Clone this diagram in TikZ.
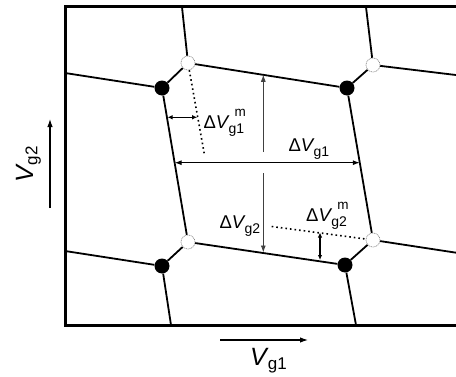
\documentclass[tikz,border=0pt]{standalone}
\usepackage{fontspec}
\setmainfont{Liberation Sans}
\usetikzlibrary{arrows.meta}
\newcommand\dvlab[2]{\fontsize{18.5}{18.5}\selectfont Δ\textit{V}\kern-1pt\rlap{\kern6pt\raisebox{11.5pt}{\fontsize{13.5}{13.5}\selectfont #2}}\raisebox{-5pt}{\fontsize{14}{14}\selectfont #1}}
\newcommand\axlab[1]{\fontsize{25}{25}\selectfont\textit{V}\kern-1pt\raisebox{-4.5pt}{\fontsize{17}{17}\selectfont #1}}
\begin{document}
\begin{tikzpicture}[x=1pt,y=1pt,
  boxline/.style={line width=3pt},
  cellline/.style={line width=1.8pt},
  blackdot/.style={circle,fill=black,minimum size=15pt,inner sep=0pt},
  opendot/.style={circle,draw=black!50,line width=0.6pt,dash pattern=on 1pt off 0.8pt,fill=white,minimum size=14pt,inner sep=0pt},
  dimarrow/.style={line width=1.1pt,{Latex[length=7pt,width=5pt]}-{Latex[length=7pt,width=5pt]}},
  smallarrow/.style={line width=1.1pt,{Latex[length=5pt,width=4.5pt]}-{Latex[length=5pt,width=4.5pt]}},
  thinarrow/.style={line width=0.8pt,draw=black!75,-{Latex[length=7pt,width=5pt]}},
  axarrow/.style={line width=1.1pt,-{Latex[length=8pt,width=5.5pt]}},
  dottedline/.style={line width=1.6pt,dash pattern=on 1.6pt off 3pt},
  lab/.style={inner sep=0pt,anchor=base west}]
\path[use as bounding box] (0,0) rectangle (456,376);
% dots
\node[blackdot] (A1) at (162,288) {};
\node[opendot] (O1) at (188,313) {};
\node[blackdot] (A2) at (347,288) {};
\node[opendot] (O2) at (373,311) {};
\node[blackdot] (B1) at (162,110) {};
\node[opendot] (P1) at (188,134) {};
\node[blackdot] (B2) at (345,111) {};
\node[opendot] (P2) at (373,136) {};
% edge coordinates
\coordinate (tl) at (65,369);
\coordinate (bl) at (65,51);
\coordinate (tr) at (460,369);
\coordinate (br) at (460,51);
\coordinate (eA1) at (65,303);
\coordinate (eO1) at (182,369);
\coordinate (eO2t) at (366,369);
\coordinate (eO2r) at (460,300.5);
\coordinate (eB1l) at (65,125);
\coordinate (eB1b) at (171,51);
\coordinate (eB2b) at (356,51);
\coordinate (eP2r) at (460,122.7);
% cell lines
\draw[cellline] (eA1) -- (A1);
\draw[cellline] (A1) -- (O1);
\draw[cellline] (O1) -- (eO1);
\draw[cellline] (O1) -- (A2);
\draw[cellline] (A2) -- (O2);
\draw[cellline] (O2) -- (eO2t);
\draw[cellline] (O2) -- (eO2r);
\draw[cellline] (A1) -- (P1);
\draw[cellline] (A2) -- (P2);
\draw[cellline] (B1) -- (P1);
\draw[cellline] (eB1l) -- (B1);
\draw[cellline] (B1) -- (eB1b);
\draw[cellline] (P1) -- (B2);
\draw[cellline] (B2) -- (P2);
\draw[cellline] (B2) -- (eB2b);
\draw[cellline] (P2) -- (eP2r);
% box
\draw[boxline] (tr) -- (tl) -- (bl) -- (br);
% Delta Vg1
\coordinate (g1L) at (174.6,213.3);
\coordinate (g1R) at (359.8,213.3);
\draw[dimarrow] (g1L) -- (g1R);
% Delta Vg2
\coordinate (g2T) at (263.3,301.2);
\coordinate (g2a) at (263.3,224);
\coordinate (g2b) at (263.3,203);
\coordinate (g2B) at (263.3,123.5);
\draw[thinarrow] (g2a) -- (g2T);
\draw[thinarrow] (g2b) -- (g2B);
% Delta Vg1 m
\coordinate (m1e) at (204.5,221);
\draw[dottedline] (O1) -- (m1e);
\coordinate (m1a) at (167.5,258.7);
\coordinate (m1b) at (197.2,258.7);
\draw[smallarrow] (m1a) -- (m1b);
% Delta Vg2 m
\coordinate (m2s) at (271.7,149.5);
\draw[dottedline] (m2s) -- (P2);
\coordinate (m2a) at (320,143.5);
\coordinate (m2b) at (320,116);
\draw[smallarrow] (m2a) -- (m2b);
% labels
\node[lab] (l1m) at (203.3,247.7) {\dvlab{g1}{m}};
\node[lab] (l1) at (288.3,224.3) {\dvlab{g1}{}};
\node[lab] (l2) at (219.3,147.7) {\dvlab{g2}{}};
\node[lab] (l2m) at (306,155) {\dvlab{g2}{m}};
% axes
\coordinate (x1) at (220,36);
\coordinate (x2) at (308,36);
\draw[axarrow] (x1) -- (x2);
\coordinate (y1) at (50,168);
\coordinate (y2) at (50,257);
\draw[axarrow] (y1) -- (y2);
\node[lab] (vg1) at (250,11) {\axlab{g1}};
\node[lab,rotate=90] (vg2) at (33,193) {\axlab{g2}};
\end{tikzpicture}
\end{document}
